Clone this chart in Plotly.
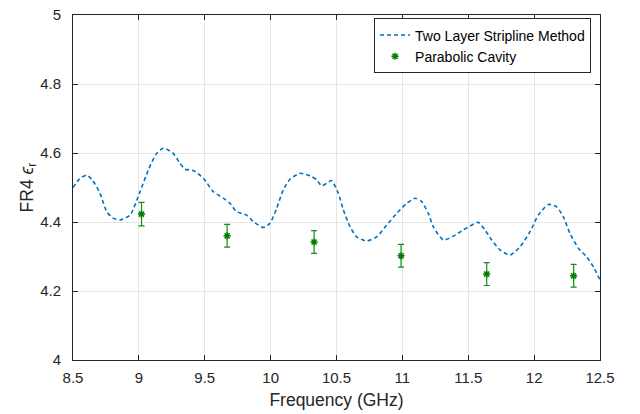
import plotly.graph_objects as go

# Two Layer Stripline Method curve
freq_line = [8.5, 8.55, 8.604, 8.65, 8.705, 8.756, 8.8, 8.857, 8.933, 9.009, 9.072, 9.13, 9.185,
             9.261, 9.312, 9.35, 9.413, 9.489, 9.565, 9.641, 9.692, 9.742, 9.818, 9.869, 9.944,
             9.995, 10.046, 10.096, 10.147, 10.223, 10.299, 10.35, 10.387, 10.425, 10.463, 10.514,
             10.552, 10.603, 10.653, 10.729, 10.805, 10.881, 10.957, 11.033, 11.096, 11.147,
             11.197, 11.235, 11.311, 11.387, 11.463, 11.577, 11.627, 11.678, 11.741, 11.817,
             11.893, 11.969, 12.032, 12.108, 12.171, 12.222, 12.272, 12.336, 12.399, 12.45, 12.5]
eps_line = [4.500, 4.525, 4.536, 4.520, 4.483, 4.430, 4.412, 4.406, 4.420, 4.488, 4.551, 4.596, 4.614,
            4.599, 4.570, 4.553, 4.549, 4.527, 4.488, 4.469, 4.454, 4.430, 4.420, 4.401, 4.384,
            4.396, 4.440, 4.493, 4.524, 4.541, 4.534, 4.522, 4.505, 4.512, 4.520, 4.483,
            4.435, 4.386, 4.357, 4.345, 4.357, 4.391, 4.425, 4.454, 4.469, 4.459,
            4.425, 4.386, 4.348, 4.359, 4.377, 4.399, 4.377, 4.348, 4.319, 4.304,
            4.328, 4.372, 4.420, 4.451, 4.444, 4.415, 4.367, 4.324, 4.299, 4.270, 4.232]

# Parabolic Cavity measurements
freq_pts = [9.02, 9.67, 10.33, 10.99, 11.64, 12.30]
eps_pts = [4.423, 4.360, 4.342, 4.302, 4.249, 4.244]
eps_err = [0.034, 0.033, 0.033, 0.033, 0.033, 0.033]

x_ticks = [8.5, 9, 9.5, 10, 10.5, 11, 11.5, 12, 12.5]
y_ticks = [4, 4.2, 4.4, 4.6, 4.8, 5]

FONT = "Liberation Sans, Arial, sans-serif"

fig = go.Figure()
fig.add_trace(go.Scatter(
    x=freq_line, y=eps_line, mode="lines", name="Two Layer Stripline Method",
    line=dict(color="#0072BD", width=1.6, dash="4px,3px", shape="spline", smoothing=0.6),
))
fig.add_trace(go.Scatter(
    x=freq_pts, y=eps_pts, mode="markers", name="Parabolic Cavity",
    marker=dict(symbol="asterisk-open", size=6, color="#008000", line=dict(color="#008000", width=1.5)),
    error_y=dict(type="data", array=eps_err, visible=True, color="#1a8a1a", thickness=1.2, width=3),
))

axis_common = dict(
    showline=True, linecolor="#262626", linewidth=1, mirror="ticks",
    ticks="inside", ticklen=5, tickcolor="#262626", tickwidth=1,
    showgrid=True, gridcolor="#e6e6e6", gridwidth=1, zeroline=False,
    tickfont=dict(family=FONT, size=15, color="#262626"),
    automargin=False,
)

fig.update_layout(
    width=640, height=414,
    margin=dict(l=73, r=40, t=15, b=54),
    paper_bgcolor="white", plot_bgcolor="white",
    font=dict(family=FONT, color="#262626"),
    xaxis=dict(range=[8.5, 12.5], tickvals=x_ticks, ticktext=[str(v) for v in x_ticks],
               ticklabelstandoff=4,
               title=dict(text="Frequency (GHz)", font=dict(size=17.5), standoff=8), **axis_common),
    yaxis=dict(range=[4, 5], tickvals=y_ticks, ticktext=[("%g" % v) for v in y_ticks],
               ticklabelstandoff=8,
               title=dict(text="FR4 <i>ϵ</i><sub>r</sub>", font=dict(size=17.5), standoff=2), **axis_common),
    legend=dict(x=0.983, y=0.99, xanchor="right", yanchor="top",
                bgcolor="white", bordercolor="#262626", borderwidth=1, itemwidth=30,
                font=dict(size=14, color="black"), tracegroupgap=0),
    showlegend=True,
)

fig.write_html("out.html")
